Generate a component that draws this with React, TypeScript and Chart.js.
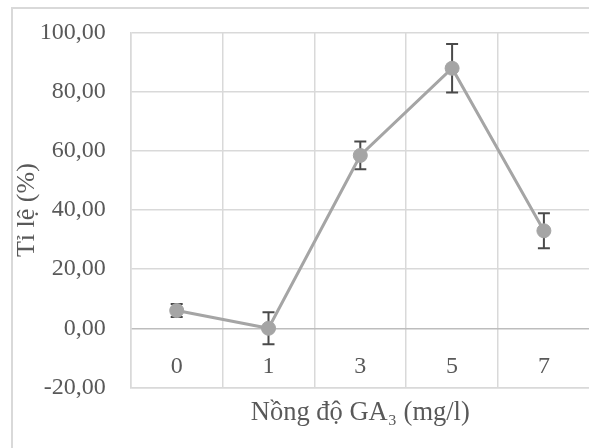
import React, { useEffect, useRef } from 'react';
import { Chart, registerables } from 'chart.js';

Chart.register(...registerables);

const categories = ['0', '1', '3', '5', '7'];
const rates = [6, 0, 58.5, 88, 33];
const errors = [2.2, 5.4, 4.7, 8.2, 5.9];
const yMin = -20;
const yMax = 100;
const yStep = 20;
const yTitle = 'Tỉ lệ (%)';
const xTitle = 'Nồng độ GA₃ (mg/l)';

const FONT = "'Liberation Serif', 'Times New Roman', serif";
const TEXT = '#595959';
const GRID = '#d9d9d9';
const SERIES = '#a5a5a5';

const errorBarPlugin = {
  id: 'errorBars',
  beforeDatasetsDraw(chart: any) {
    const ctx = chart.ctx;
    const meta = chart.getDatasetMeta(0);
    const y = chart.scales.y;
    ctx.save();
    ctx.strokeStyle = '#4a4a4a';
    ctx.lineWidth = 2;
    meta.data.forEach((pt: any, i: number) => {
      const v = rates[i];
      const e = errors[i];
      const yt = y.getPixelForValue(v + e);
      const yb = y.getPixelForValue(v - e);
      const x = pt.x;
      ctx.beginPath();
      ctx.moveTo(x, yt);
      ctx.lineTo(x, yb);
      ctx.moveTo(x - 6, yt);
      ctx.lineTo(x + 6, yt);
      ctx.moveTo(x - 6, yb);
      ctx.lineTo(x + 6, yb);
      ctx.stroke();
    });
    ctx.restore();
  },
};

// Category labels drawn inside the plot, just under the zero line (Excel "next to axis")
const categoryLabelPlugin = {
  id: 'categoryLabels',
  afterDraw(chart: any) {
    const ctx = chart.ctx;
    const x = chart.scales.x;
    const y = chart.scales.y;
    const yPix = (y.getPixelForValue(0) + y.getPixelForValue(yMin)) / 2 + 8.5;
    ctx.save();
    ctx.font = `24px ${FONT}`;
    ctx.fillStyle = TEXT;
    ctx.textAlign = 'center';
    ctx.textBaseline = 'middle';
    categories.forEach((c, i) => {
      ctx.fillText(c, x.getPixelForTick(i), yPix);
    });
    ctx.restore();
  },
};

export default function App() {
  const canvasRef = useRef<HTMLCanvasElement | null>(null);

  useEffect(() => {
    if (!canvasRef.current) return;
    const chart = new Chart(canvasRef.current, {
      type: 'line',
      data: {
        labels: categories,
        datasets: [
          {
            data: rates,
            borderColor: SERIES,
            borderWidth: 3,
            pointRadius: 7,
            pointBackgroundColor: SERIES,
            pointBorderColor: SERIES,
            pointBorderWidth: 1,
            tension: 0,
          },
        ],
      },
      options: {
        animation: false,
        responsive: true,
        maintainAspectRatio: false,
        layout: { padding: { top: 32.8, right: 10.2, left: 0, bottom: 0 } },
        plugins: {
          legend: { display: false },
          tooltip: { enabled: false },
        },
        scales: {
          x: {
            offset: true,
            grid: {
              offset: true,
              color: GRID,
              lineWidth: 1.5,
              drawTicks: false,
            },
            border: { display: true, color: GRID, width: 1.5 },
            ticks: { display: false },
            title: {
              display: true,
              text: xTitle,
              font: { family: FONT, size: 26.5 },
              color: TEXT,
              padding: { top: 0, bottom: 19 },
            },
            afterFit(scale: any) {
              scale.height = 60.6;
              scale.paddingLeft = 0;
              scale.paddingRight = 0;
            },
          },
          y: {
            min: yMin,
            max: yMax,
            ticks: {
              stepSize: yStep,
              font: { family: FONT, size: 24 },
              color: TEXT,
              padding: 25,
              callback: (v: any) => Number(v).toFixed(2).replace('.', ','),
            },
            grid: {
              color: (c: any) => (c.tick && c.tick.value === 0 ? '#bdbdbd' : GRID),
              lineWidth: 1.5,
              drawTicks: false,
            },
            border: { display: true, color: GRID, width: 1.5 },
            title: {
              display: true,
              text: yTitle,
              font: { family: FONT, size: 26 },
              color: TEXT,
              padding: { top: 12, bottom: 0 },
            },
            afterFit(scale: any) {
              scale.width = 130.8;
              scale.paddingTop = 0;
              scale.paddingBottom = 0;
            },
          },
        },
      },
      plugins: [errorBarPlugin, categoryLabelPlugin],
    });
    return () => chart.destroy();
  }, []);

  return (
    <div style={{ position: 'relative', width: 589, height: 448, overflow: 'hidden', background: '#fff' }}>
      <style>{'body{margin:0;}'}</style>
      <div
        style={{
          position: 'absolute',
          left: 11,
          top: 7,
          width: 800,
          height: 800,
          border: '2px solid #d9d9d9',
          boxSizing: 'border-box',
        }}
      />
      <div style={{ position: 'absolute', left: 0, top: 0, width: 600, height: 448 }}>
        <canvas ref={canvasRef} />
      </div>
    </div>
  );
}
